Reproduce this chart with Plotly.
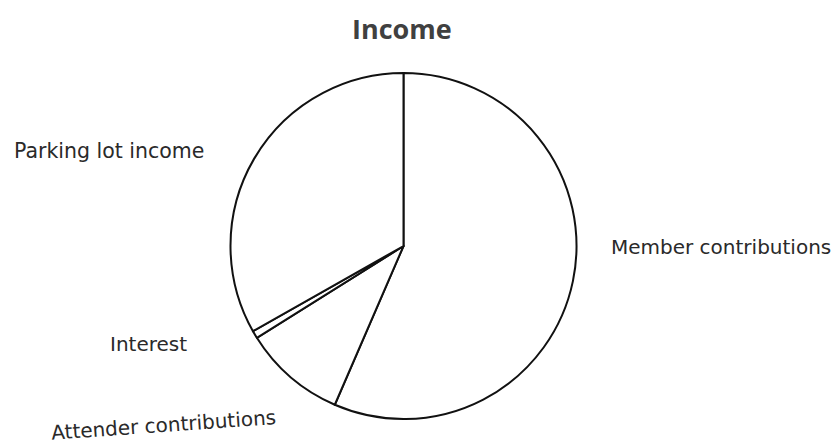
import plotly.graph_objects as go

labels = ["Member contributions", "Attender contributions", "Interest", "Parking lot income"]
values = [56.5, 9.6, 0.7, 33.2]

W, H = 835, 444
cx, cy, r = 403.5, 246, 173

fig = go.Figure(go.Pie(
    labels=labels,
    values=values,
    sort=False,
    direction="clockwise",
    rotation=0,
    textinfo="none",
    hoverinfo="label+percent",
    marker=dict(colors=["white"] * len(labels), line=dict(color="#111111", width=2)),
    domain=dict(x=[(cx - r) / W, (cx + r) / W], y=[(H - cy - r) / H, (H - cy + r) / H]),
    showlegend=False,
))

label_pos = {
    "Parking lot income": (109, 151, 0, 20.5),
    "Member contributions": (721, 247, 0, 20),
    "Interest": (148, 344, 0, 20),
    "Attender contributions": (163, 425, -4, 20),
}
for name, (x, y, ang, sz) in label_pos.items():
    fig.add_annotation(
        x=x / W, y=1 - y / H, xref="paper", yref="paper",
        text=name, showarrow=False, textangle=ang,
        font=dict(family="DejaVu Sans, sans-serif", size=sz, color="#2a2a2a"),
        xanchor="center", yanchor="middle",
    )

fig.add_annotation(
    x=402 / W, y=1 - 28 / H, xref="paper", yref="paper",
    text="<b>Income</b>", showarrow=False,
    font=dict(family="Open Sans, sans-serif", size=27, color="#404040"),
    xanchor="center", yanchor="middle",
)

fig.update_layout(
    width=W, height=H,
    margin=dict(l=0, r=0, t=0, b=0),
    paper_bgcolor="white",
    plot_bgcolor="white",
)

fig.write_html(
    "out.html",
    config={"displayModeBar": False},
    post_script="document.body.style.margin='0';document.body.style.overflow='hidden';",
)
